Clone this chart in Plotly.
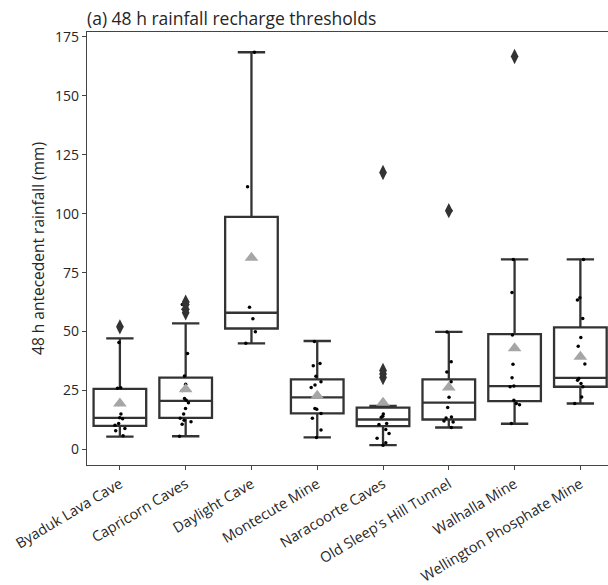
import plotly.graph_objects as go

cats = ["Byaduk Lava Cave", "Capricorn Caves", "Daylight Cave", "Montecute Mine",
        "Naracoorte Caves", "Old Sleep's Hill Tunnel", "Walhalla Mine",
        "Wellington Phosphate Mine"]

q1 = [10.0, 13.4, 51.3, 15.3, 9.9, 12.7, 20.5, 26.6]
median = [13.4, 20.6, 58.0, 22.1, 12.7, 19.9, 26.9, 30.4]
q3 = [25.7, 30.5, 98.7, 29.7, 17.7, 29.7, 48.9, 51.8]
lowerfence = [5.4, 5.6, 45.0, 5.1, 1.8, 9.3, 10.9, 19.5]
upperfence = [47.1, 53.5, 168.5, 46.0, 18.5, 49.9, 80.6, 80.6]
means = [19.5, 25.5, 81.3, 22.8, 19.8, 26.3, 42.9, 39.3]

outliers = {
    "Byaduk Lava Cave": [52.0],
    "Capricorn Caves": [58.0, 59.5, 61.5, 62.5],
    "Naracoorte Caves": [30.5, 32.0, 33.5, 117.5],
    "Old Sleep's Hill Tunnel": [101.3],
    "Walhalla Mine": [166.7],
}

points = {
    "Byaduk Lava Cave": [45.4, 26.2, 26.0, 19.1, 15.0, 13.4, 13.0, 11.0, 10.3, 8.9, 7.9, 5.8, 52.0],
    "Capricorn Caves": [40.7, 31.2, 27.7, 25.0, 21.6, 20.9, 19.8, 17.4, 15.0, 13.2, 12.4, 11.7,
                        10.7, 5.6, 62.5, 61.5, 59.5, 58.0],
    "Daylight Cave": [168.5, 111.5, 60.3, 55.4, 49.9, 45.0],
    "Montecute Mine": [45.8, 36.5, 35.5, 31.1, 28.7, 27.3, 26.3, 17.4, 17.0, 15.3, 13.2, 8.2, 5.1],
    "Naracoorte Caves": [117.5, 33.0, 32.0, 15.0, 14.1, 13.7, 11.0, 10.6, 8.5, 6.8, 4.7, 2.8, 1.8],
    "Old Sleep's Hill Tunnel": [101.3, 49.8, 37.2, 32.9, 28.7, 22.1, 17.8, 13.8, 13.3, 12.1, 11.6, 9.3],
    "Walhalla Mine": [166.7, 80.6, 66.6, 48.5, 36.1, 30.4, 26.9, 26.6, 20.9, 19.5, 19.0, 11.0],
    "Wellington Phosphate Mine": [80.6, 64.4, 63.4, 55.6, 47.5, 43.8, 36.2, 30.1, 29.4, 28.0,
                                  26.6, 22.3, 19.5],
}

yticks = [0, 25, 50, 75, 100, 125, 150, 175]

FONT = "Open Sans"
DARK = "#333333"

fig = go.Figure()

fig.add_trace(go.Box(
    x=cats, q1=q1, median=median, q3=q3,
    lowerfence=lowerfence, upperfence=upperfence,
    boxpoints=False, width=0.8, whiskerwidth=0.52,
    fillcolor="white", line=dict(color=DARK, width=2.3),
    showlegend=False, hoverinfo="skip",
))

ox, oy = [], []
for c, vals in outliers.items():
    ox += [c] * len(vals)
    oy += vals
fig.add_trace(go.Scatter(
    x=ox, y=oy, mode="markers",
    marker=dict(symbol="diamond-tall", size=11, color=DARK),
    showlegend=False,
))

px, py = [], []
for c, vals in points.items():
    px += [c] * len(vals)
    py += vals
fig.add_trace(go.Box(
    x=px, y=py, boxpoints="all", jitter=0.25, pointpos=0, width=0.8,
    fillcolor="rgba(0,0,0,0)", line=dict(color="rgba(0,0,0,0)", width=0),
    marker=dict(color="black", size=3.5),
    showlegend=False,
))

fig.add_trace(go.Scatter(
    x=cats, y=means, mode="markers",
    marker=dict(symbol="triangle-up", size=12, color="#a6a6a6"),
    showlegend=False,
))

fig.update_layout(
    width=608, height=585,
    margin=dict(l=87, r=0, t=32, b=120),
    paper_bgcolor="white", plot_bgcolor="white",
    boxmode="overlay",
    font=dict(family=FONT, size=14, color="#262626"),
    title=dict(text="(a) 48 h rainfall recharge thresholds",
               x=87 / 608, xref="container", xanchor="left",
               y=1 - 19 / 585, yref="container", yanchor="middle",
               font=dict(family=FONT, size=17.5, color="#262626")),
    xaxis=dict(
        type="category", categoryorder="array", categoryarray=cats,
        range=[-0.5, 7.42], automargin=False,
        showline=True, linecolor="#444", linewidth=1.3, mirror=True,
        ticks="outside", ticklen=4, tickcolor="#444",
        tickangle=-31, tickfont=dict(size=14.5),
        showgrid=False, zeroline=False,
    ),
    yaxis=dict(
        range=[-6.6, 177.1], automargin=False,
        tickvals=yticks,
        showline=True, linecolor="#444", linewidth=1.3,
        ticks="outside", ticklen=4, tickcolor="#444",
        tickfont=dict(size=14),
        showgrid=False, zeroline=False,
        title=dict(text="48 h antecedent rainfall (mm)", font=dict(size=15.5), standoff=6),
    ),
)

fig.write_html("out.html")
